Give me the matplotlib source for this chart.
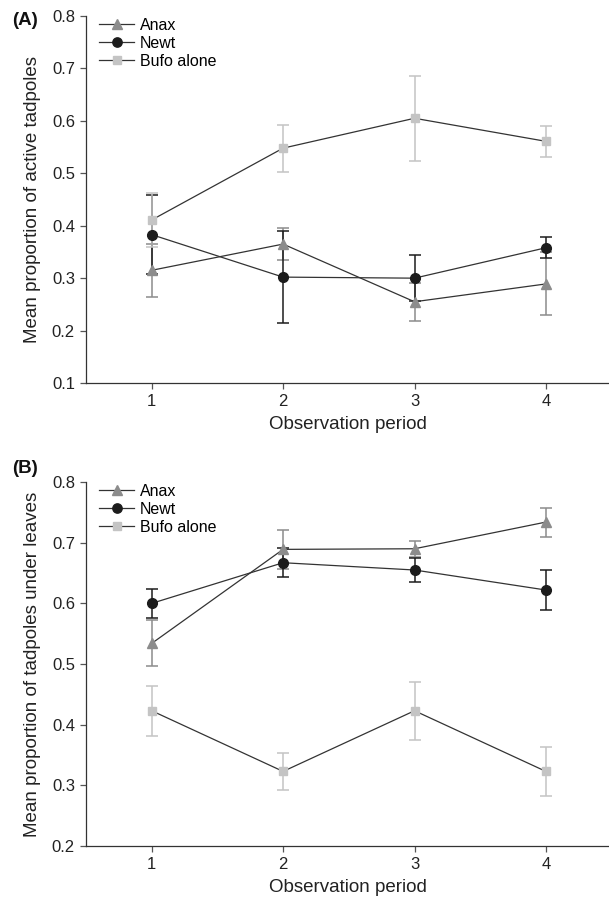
import matplotlib
matplotlib.use("Agg")
import matplotlib.pyplot as plt
import numpy as np

plt.rcParams['font.family'] = ['Liberation Sans', 'DejaVu Sans']

periods = [1, 2, 3, 4]

# (A) mean proportion of active tadpoles
a_anax = [0.315, 0.365, 0.255, 0.289]
a_anax_err = [0.050, 0.030, 0.036, 0.060]
a_newt = [0.383, 0.302, 0.300, 0.358]
a_newt_err = [0.075, 0.088, 0.044, 0.020]
a_bufo = [0.411, 0.548, 0.605, 0.561]
a_bufo_err = [0.052, 0.045, 0.081, 0.030]

# (B) mean proportion of tadpoles under leaves
b_anax = [0.534, 0.689, 0.690, 0.734]
b_anax_err = [0.038, 0.032, 0.013, 0.024]
b_newt = [0.600, 0.667, 0.655, 0.622]
b_newt_err = [0.024, 0.024, 0.020, 0.033]
b_bufo = [0.423, 0.323, 0.423, 0.323]
b_bufo_err = [0.041, 0.031, 0.048, 0.040]

line_col = "#333333"
styles = {
    'Anax': dict(marker='^', color='#8c8c8c', ms=7.2),
    'Newt': dict(marker='o', color='#1c1c1c', ms=7.0),
    'Bufo alone': dict(marker='s', color='#c4c4c4', ms=6.2),
}

fig = plt.figure(figsize=(6.09, 9.01), dpi=100)
axA = fig.add_axes([0.1412, 0.5749, 1.0 - 0.1412, 0.9822 - 0.5749])
axB = fig.add_axes([0.1412, 0.0610, 1.0 - 0.1412, 0.4650 - 0.0610])


def draw(ax, series, ylim, yticks, ylabel, tag, tag_y):
    for name, (vals, errs) in series.items():
        st = styles[name]
        ax.errorbar(periods, vals, yerr=errs, fmt='none', ecolor=st['color'],
                    elinewidth=1.1, capsize=4.5, capthick=1.1, zorder=2)
    for name, (vals, errs) in series.items():
        st = styles[name]
        ax.plot(periods, vals, '-', color=line_col, lw=0.9, zorder=3)
        ax.plot(periods, vals, linestyle='none', marker=st['marker'],
                color=st['color'], ms=st['ms'], mec=st['color'], zorder=4)
    # legend proxies: dark line with coloured marker
    handles = []
    for name in series:
        st = styles[name]
        h, = ax.plot([], [], '-', color=line_col, lw=0.9, marker=st['marker'],
                     mfc=st['color'], mec=st['color'], ms=st['ms'] - 0.3)
        handles.append(h)
    ax.legend(handles, list(series.keys()), loc='upper left',
              bbox_to_anchor=(0.013, 1.012), frameon=False, fontsize=11.5,
              handlelength=2.2, handletextpad=0.35, labelspacing=0.18,
              borderaxespad=0)

    ax.set_xlim(0.5, 4.48)
    ax.set_ylim(*ylim)
    ax.set_xticks(periods)
    ax.set_yticks(yticks)
    ax.set_yticklabels([f"{t:.1f}" for t in yticks])
    for s in ['top', 'right']:
        ax.spines[s].set_visible(False)
    for s in ['left', 'bottom']:
        ax.spines[s].set_color('#333333')
        ax.spines[s].set_linewidth(0.9)
    ax.tick_params(direction='out', length=4, width=0.9, color='#555555',
                   labelsize=12, labelcolor='#222222', pad=4)
    ax.set_xlabel('Observation period', fontsize=13.5, color='#222222', labelpad=5)
    ax.set_ylabel(ylabel, fontsize=13.5, color='#222222', labelpad=8)
    ax.text(-0.1415, tag_y, tag, transform=ax.transAxes, fontsize=13.5,
            fontweight='bold', ha='left', va='center', color='#111111')


draw(axA,
     {'Anax': (a_anax, a_anax_err), 'Newt': (a_newt, a_newt_err),
      'Bufo alone': (a_bufo, a_bufo_err)},
     (0.1, 0.8), [0.1, 0.2, 0.3, 0.4, 0.5, 0.6, 0.7, 0.8],
     'Mean proportion of active tadpoles', '(A)', 0.989)
draw(axB,
     {'Anax': (b_anax, b_anax_err), 'Newt': (b_newt, b_newt_err),
      'Bufo alone': (b_bufo, b_bufo_err)},
     (0.2, 0.8), [0.2, 0.3, 0.4, 0.5, 0.6, 0.7, 0.8],
     'Mean proportion of tadpoles under leaves', '(B)', 1.038)

fig.savefig('out.png', dpi=100)
